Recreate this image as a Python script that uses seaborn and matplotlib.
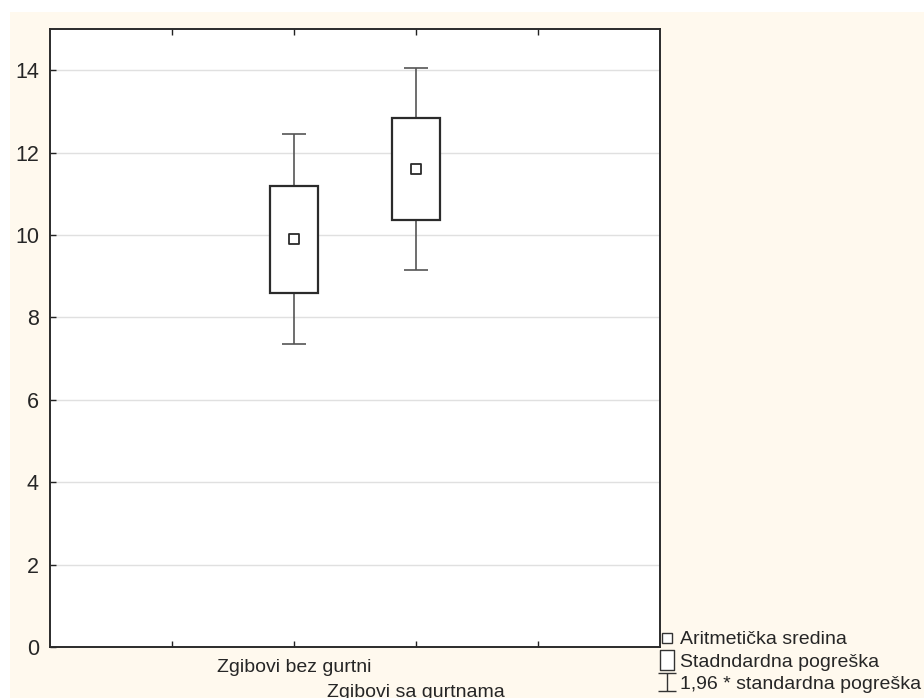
import matplotlib
matplotlib.use("Agg")
import matplotlib.pyplot as plt
import seaborn as sns
import pandas as pd
from matplotlib.patches import Rectangle
from matplotlib.lines import Line2D
from matplotlib.path import Path

categories = ["Zgibovi bez gurtni", "Zgibovi sa gurtnama"]
means = [9.9, 11.6]
se_low = [8.6, 10.36]
se_high = [11.2, 12.84]
ci_low = [7.35, 9.16]
ci_high = [12.45, 14.05]
positions = [2, 3]
legend_labels = ["Aritmetička sredina", "Stadndardna pogreška", "1,96 * standardna pogreška"]

sns.set_theme(style="white")
plt.rcParams["font.family"] = ["Liberation Sans", "DejaVu Sans"]

cream = "#FFF9EE"
fig = plt.figure(figsize=(9.24, 6.98), dpi=100, facecolor="white")
fig.add_artist(Rectangle((10 / 924, 0), 914 / 924, 686 / 698, transform=fig.transFigure,
                         facecolor=cream, edgecolor="none", zorder=-10))
ax = fig.add_axes([50 / 924, 51 / 698, 610 / 924, 618 / 698])
ax.set_facecolor("white")

df = pd.DataFrame({"pos": positions, "mean": means})

box_w = 0.4
cap_w = 0.2
for p, lo, hi, clo, chi in zip(positions, se_low, se_high, ci_low, ci_high):
    ax.add_patch(Rectangle((p - box_w / 2, lo), box_w, hi - lo, facecolor="white",
                           edgecolor="#2b2b2b", linewidth=1.6, zorder=3))
    ax.vlines(p, hi, chi, color="#555555", linewidth=1.2, zorder=2)
    ax.vlines(p, clo, lo, color="#555555", linewidth=1.2, zorder=2)
    ax.hlines([clo, chi], p - cap_w / 2, p + cap_w / 2, color="#555555", linewidth=1.2, zorder=2)

sns.scatterplot(data=df, x="pos", y="mean", marker="s", s=60, facecolor="white",
                edgecolor="#2b2b2b", linewidth=1.3, ax=ax, zorder=4, legend=False)

ax.set_xlim(0, 5)
ax.set_ylim(0, 15)
ax.set_yticks(range(0, 15, 2))
ax.yaxis.grid(True, color="#e0e0e0", linewidth=1.0)
ax.set_axisbelow(True)
ax.set_xticks([1, 2, 3, 4])
ax.set_xticklabels([])
ax.set_xlabel("")
ax.set_ylabel("")
ax.tick_params(axis="y", direction="in", length=4, width=1, color="#222222",
               labelsize=15.5, pad=8, left=True, right=False)
ax.tick_params(axis="x", direction="in", length=4, width=1, color="#222222",
               top=True, bottom=True)
for s in ax.spines.values():
    s.set_color("#2b2b2b")
    s.set_linewidth(1.4)

# staggered category labels
ax.text(positions[0], -0.3, categories[0], ha="center", va="top", fontsize=14,
        transform=ax.transData)
ax.text(positions[1], -0.9, categories[1], ha="center", va="top", fontsize=14,
        transform=ax.transData)

# legend
ibeam = Path([(-1, -1), (1, -1), (0, -1), (0, 1), (-1, 1), (1, 1)],
             [Path.MOVETO, Path.LINETO, Path.MOVETO, Path.LINETO, Path.MOVETO, Path.LINETO])
tallbox = Path([(-0.7, -1), (0.7, -1), (0.7, 1), (-0.7, 1), (-0.7, -1)],
               [Path.MOVETO, Path.LINETO, Path.LINETO, Path.LINETO, Path.CLOSEPOLY])
handles = [
    Line2D([], [], linestyle="none", marker="s", markersize=7, markerfacecolor="white",
           markeredgecolor="#333333", markeredgewidth=1.0),
    Line2D([], [], linestyle="none", marker=tallbox, markersize=14, markerfacecolor="white",
           markeredgecolor="#333333", markeredgewidth=1.0),
    Line2D([], [], linestyle="none", marker=ibeam, markersize=13, markerfacecolor="none",
           markeredgecolor="#333333", markeredgewidth=1.0),
]
leg = fig.legend(handles, legend_labels, loc="lower left",
                 bbox_to_anchor=(649 / 924, -5 / 698), frameon=False, fontsize=14,
                 handlelength=0.8, handletextpad=0.3, labelspacing=0.25, borderpad=0.0)

fig.savefig("out.png", dpi=100, facecolor=fig.get_facecolor())
